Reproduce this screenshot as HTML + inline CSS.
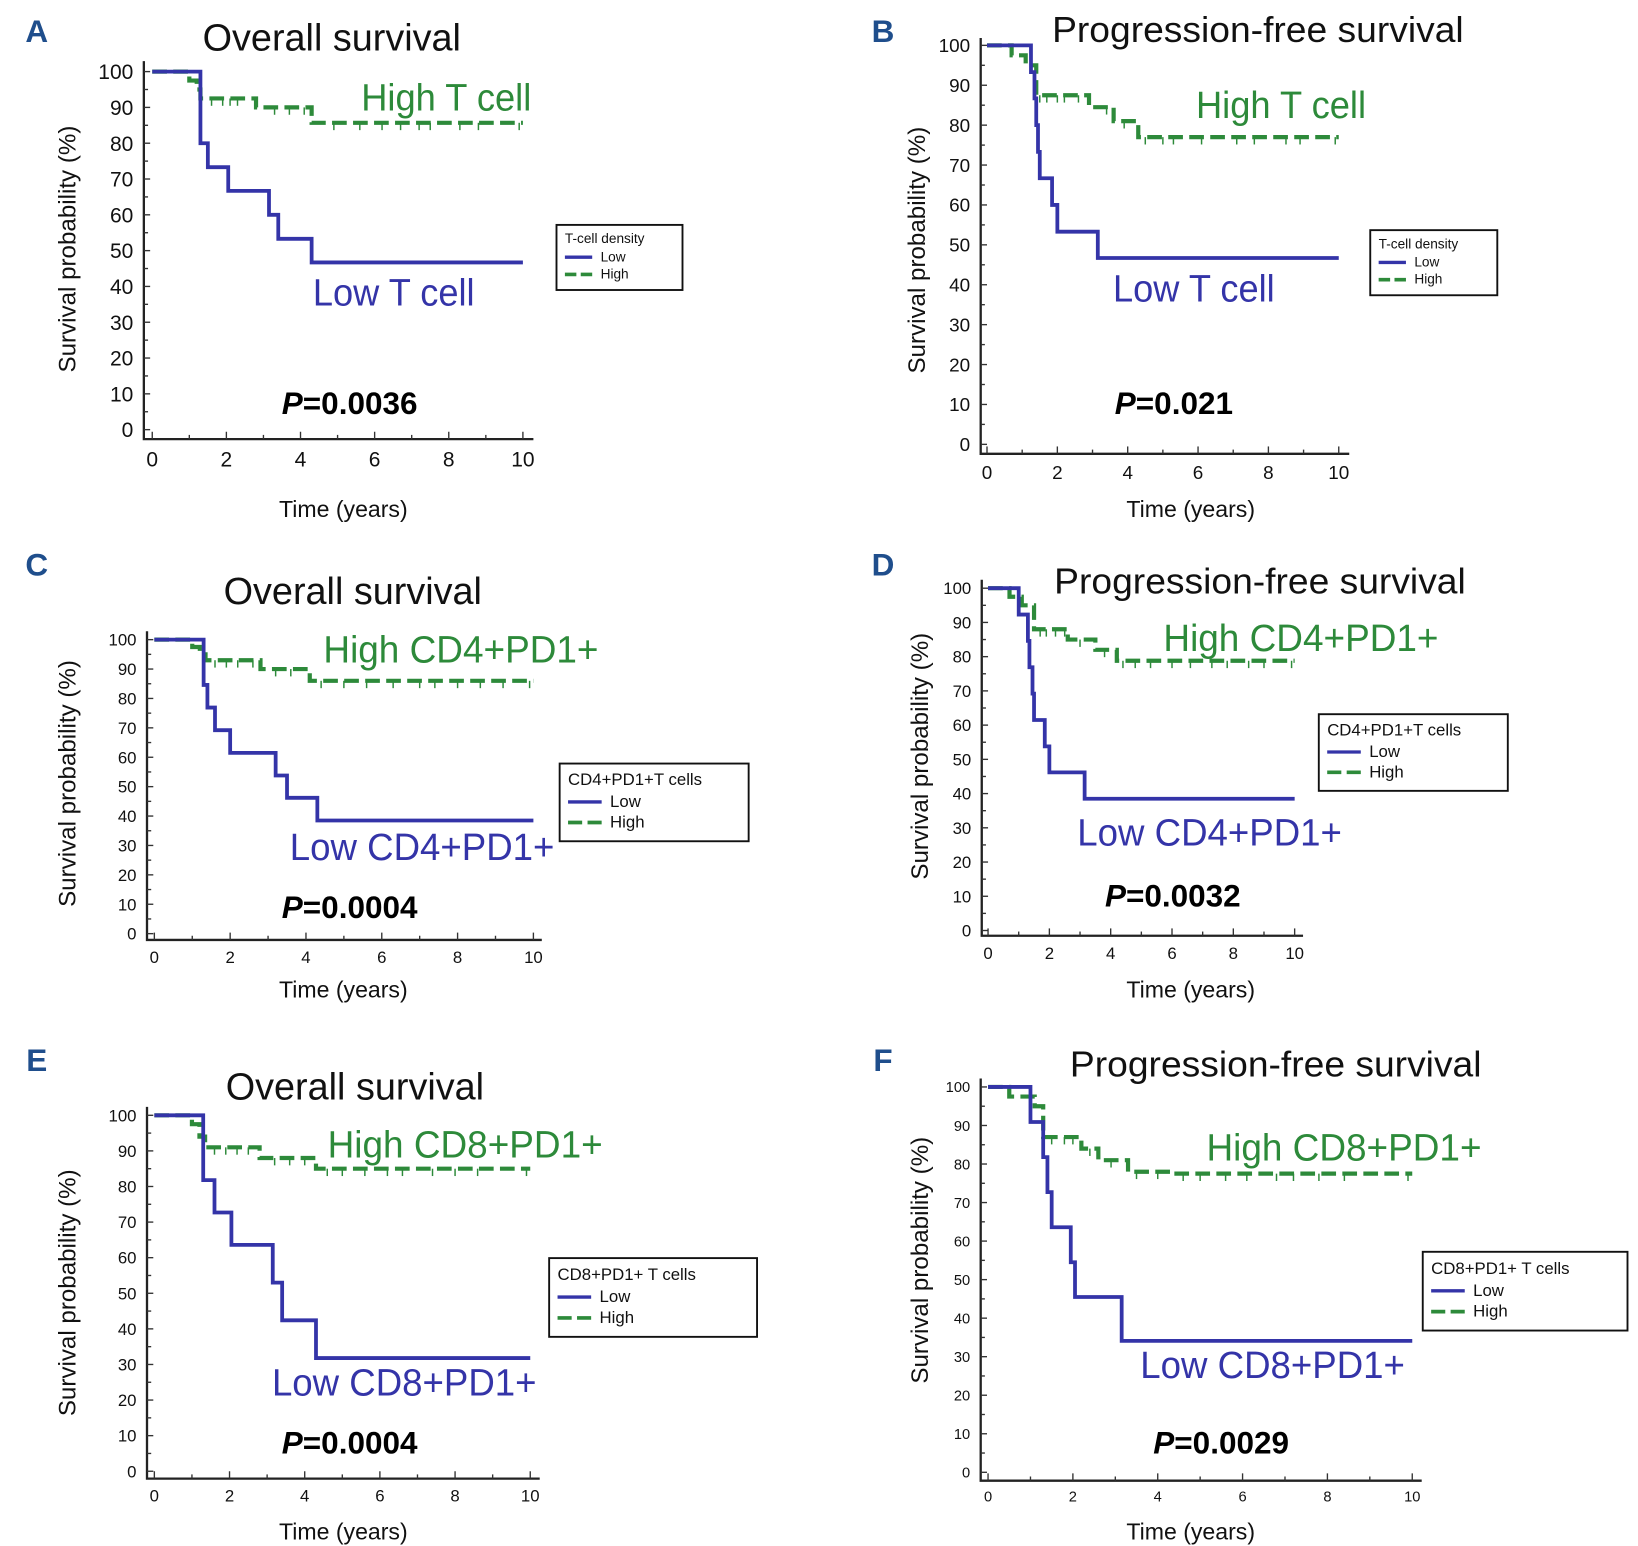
<!DOCTYPE html>
<html><head><meta charset="utf-8"><style>
html,body{margin:0;padding:0;background:#fff;}
svg{display:block;font-family:"Liberation Sans",sans-serif;}
</style></head><body>
<svg id="fig" width="1638" height="1546" viewBox="0 0 1560 1472" xmlns="http://www.w3.org/2000/svg"></svg>
<script>
// ---- data (time in years, survival %) ----
const aLowTimes=[0,1.3,1.5,2.05,3.15,3.4,4.3,10];
const aLowSurv=[100,80,73.3,66.7,60,53.3,46.7,46.7];
const aHighTimes=[0,1.0,1.2,1.3,2.8,4.3,10];
const aHighSurv=[100,97.5,95,92.5,90,85.7,85.7];
const aHighCensor=[1.6,1.9,2.1,2.3,3.3,3.7,4.1,4.9,5.6,6.2,6.7,7.2,7.5,8.3,8.8,9.9];

const bLowTimes=[0,1.25,1.35,1.4,1.45,1.5,1.85,2.0,3.15,10];
const bLowSurv=[100,93.3,86.7,80,73.3,66.7,60,53.3,46.7,46.7];
const bHighTimes=[0,0.7,1.1,1.4,2.9,3.6,4.3,10];
const bHighSurv=[100,97.5,95,87.5,84.5,81,77,77];
const bHighCensor=[1.5,1.7,2.0,2.2,2.6,3.4,3.9,4.5,5.0,5.3,6.1,7.1,7.6,8.5,8.9,9.9];

const cLowTimes=[0,1.3,1.4,1.6,2.0,3.2,3.5,4.3,10];
const cLowSurv=[100,84.6,76.9,69.2,61.5,53.8,46.2,38.5,38.5];
const cHighTimes=[0,1.0,1.2,1.35,2.8,4.1,10];
const cHighSurv=[100,97.5,95,93,90,86,86];
const cHighCensor=[1.6,1.9,2.2,2.6,3.2,3.6,4.4,5.0,5.6,6.3,7.0,7.4,8.0,8.6,9.2,9.9];

const dLowTimes=[0,1.0,1.3,1.35,1.45,1.5,1.85,2.0,3.15,10];
const dLowSurv=[100,92.3,84.6,76.9,69.2,61.5,53.8,46.2,38.5,38.5];
const dHighTimes=[0,0.7,1.1,1.5,2.6,3.5,4.2,10];
const dHighSurv=[100,97.5,95,88,85,82,78.8,78.8];
const dHighCensor=[1.7,1.9,2.2,2.5,3.0,3.8,4.4,4.8,5.3,6.0,6.6,7.3,7.8,8.5,9.0,9.9];

const eLowTimes=[0,1.3,1.6,2.05,3.15,3.4,4.3,10];
const eLowSurv=[100,81.8,72.7,63.6,53,42.4,31.8,31.8];
const eHighTimes=[0,1.0,1.2,1.35,2.8,4.3,10];
const eHighSurv=[100,97.5,94,91,88,85,85];
const eHighCensor=[1.6,1.9,2.2,2.5,3.2,3.6,4.0,4.6,5.0,5.6,6.2,6.6,7.4,8.0,8.6,9.9];

const fLowTimes=[0,1.0,1.3,1.4,1.5,1.95,2.05,3.15,10];
const fLowSurv=[100,90.9,81.8,72.7,63.6,54.5,45.5,34.1,34.1];
const fHighTimes=[0,0.5,1.1,1.3,2.2,2.6,3.3,4.3,10];
const fHighSurv=[100,97.5,95,87,84,81,78,77.5,77.5];
const fHighCensor=[1.5,1.8,2.0,2.4,2.9,3.5,4.0,4.6,5.0,5.6,6.1,6.8,7.2,7.8,8.4,9.9];

const yTicks=[0,10,20,30,40,50,60,70,80,90,100];
const xTicks=[0,2,4,6,8,10];

const panels=[
 {id:'a',letter:'A',lx:35,ly:40,x0:145,x1:498,y100:68,y0:409,axL:137,axB:418,axT:58,axR:508,tick:20,
  title:'Overall survival',tx:316,ty:48,tw:246,tsz:36,
  hi:'High T cell',hx:425,hy:105,hw:162,lo:'Low T cell',lox:375,loy:291,low:154,lsz:36,
  p:'0.0036',px:333,py:394,ytx:72,yty:237,xtx:327,xty:492,xtsz:22,ytsz:23,
  leg:{x:530,y:214,w:120,h:62,title:'T-cell density',sz:13},
  lowT:aLowTimes,lowS:aLowSurv,hiT:aHighTimes,hiS:aHighSurv,cen:aHighCensor},
 {id:'b',letter:'B',lx:841,ly:40,x0:940,x1:1275,y100:43,y0:423,axL:934,axB:432,axT:36,axR:1285,tick:18,
  title:'Progression-free survival',tx:1198,ty:40,tw:392,tsz:34,
  hi:'High T cell',hx:1220,hy:112,hw:162,lo:'Low T cell',lox:1137,loy:287,low:154,lsz:36,
  p:'0.021',px:1118,py:394,ytx:881,yty:238,xtx:1134,xty:492,xtsz:22,ytsz:23,
  leg:{x:1305,y:219,w:121,h:62,title:'T-cell density',sz:13},
  lowT:bLowTimes,lowS:bLowSurv,hiT:bHighTimes,hiS:bHighSurv,cen:bHighCensor},
 {id:'c',letter:'C',lx:35,ly:548,x0:147,x1:508,y100:609,y0:889,axL:140,axB:895,axT:601,axR:516,tick:16,
  title:'Overall survival',tx:336,ty:575,tw:246,tsz:36,
  hi:'High CD4+PD1+',hx:439,hy:631,hw:262,lo:'Low CD4+PD1+',lox:402,loy:819,low:252,lsz:36,
  p:'0.0004',px:333,py:874,ytx:72,yty:746,xtx:327,xty:950,xtsz:22,ytsz:23,
  leg:{x:533,y:727,w:180,h:74,title:'CD4+PD1+T cells',sz:16},
  lowT:cLowTimes,lowS:cLowSurv,hiT:cHighTimes,hiS:cHighSurv,cen:cHighCensor},
 {id:'d',letter:'D',lx:841,ly:548,x0:941,x1:1233,y100:560,y0:886,axL:935,axB:891,axT:552,axR:1241,tick:16,
  title:'Progression-free survival',tx:1200,ty:565,tw:392,tsz:34,
  hi:'High CD4+PD1+',hx:1239,hy:620,hw:262,lo:'Low CD4+PD1+',lox:1152,loy:805,low:252,lsz:36,
  p:'0.0032',px:1117,py:863,ytx:884,yty:720,xtx:1134,xty:950,xtsz:22,ytsz:23,
  leg:{x:1256,y:680,w:180,h:73,title:'CD4+PD1+T cells',sz:16},
  lowT:dLowTimes,lowS:dLowSurv,hiT:dHighTimes,hiS:dHighSurv,cen:dHighCensor},
 {id:'e',letter:'E',lx:35,ly:1020,x0:147,x1:505,y100:1062,y0:1401,axL:140,axB:1408,axT:1054,axR:514,tick:16,
  title:'Overall survival',tx:338,ty:1047,tw:246,tsz:36,
  hi:'High CD8+PD1+',hx:443,hy:1102,hw:262,lo:'Low CD8+PD1+',lox:385,loy:1329,low:252,lsz:36,
  p:'0.0004',px:333,py:1384,ytx:72,yty:1231,xtx:327,xty:1466,xtsz:22,ytsz:23,
  leg:{x:523,y:1198,w:198,h:75,title:'CD8+PD1+ T cells',sz:16},
  lowT:eLowTimes,lowS:eLowSurv,hiT:eHighTimes,hiS:eHighSurv,cen:eHighCensor},
 {id:'f',letter:'F',lx:841,ly:1020,x0:941,x1:1345,y100:1035,y0:1402,axL:934,axB:1410,axT:1027,axR:1354,tick:14,
  title:'Progression-free survival',tx:1215,ty:1025,tw:392,tsz:34,
  hi:'High CD8+PD1+',hx:1280,hy:1105,hw:262,lo:'Low CD8+PD1+',lox:1212,loy:1312,low:252,lsz:36,
  p:'0.0029',px:1163,py:1384,ytx:884,yty:1200,xtx:1134,xty:1466,xtsz:22,ytsz:23,
  leg:{x:1355,y:1192,w:195,h:75,title:'CD8+PD1+ T cells',sz:16},
  lowT:fLowTimes,lowS:fLowSurv,hiT:fHighTimes,hiS:fHighSurv,cen:fHighCensor}
];

const NS='http://www.w3.org/2000/svg';
const svg=document.getElementById('fig');
const BLUE='#3434a8', GREEN='#2d8a3a';
function mk(tag,attrs,parent,text){
  const e=document.createElementNS(NS,tag);
  for(const k in attrs) e.setAttribute(k,attrs[k]);
  if(text!==undefined) e.textContent=text;
  (parent||svg).appendChild(e); return e;
}
function stepPath(ts,ss,sx,sy){
  let d='M'+sx(ts[0])+' '+sy(ss[0]);
  for(let i=1;i<ts.length;i++){
    d+=' H'+sx(ts[i]);
    d+=' V'+sy(ss[i]);
  }
  return d;
}
function survAt(ts,ss,t){let v=ss[0];for(let i=0;i<ts.length;i++){if(ts[i]<=t)v=ss[i];}return v;}

panels.forEach(P=>{
  const g=mk('g',{});
  
  
  const sx=t=>P.x0+(P.x1-P.x0)*t/10;
  const sy=s=>P.y0+(P.y100-P.y0)*s/100;
  const L=mk('text',{x:P.lx,y:P.ly,'font-size':30,'font-weight':'bold',fill:'#1f4e8c','text-anchor':'middle'},g,P.letter);
  
  
  const T=mk('text',{x:P.tx,y:P.ty,'font-size':P.tsz,'text-anchor':'middle',textLength:P.tw,lengthAdjust:'spacingAndGlyphs',fill:'#111'},g,P.title);
  
  
  const ax=mk('path',{d:'M'+P.axL+' '+P.axT+' V'+P.axB+' H'+P.axR,stroke:'#222','stroke-width':2.2,fill:'none'},g);
  
  
  for(let v=0;v<=100;v+=5){
    const tk=mk('line',{x1:P.axL,x2:P.axL+(v%10===0?6:4),y1:sy(v),y2:sy(v),stroke:'#333','stroke-width':1.3},g);
    
    
  }
  yTicks.forEach(v=>{
    const t=mk('text',{x:P.axL-10,y:sy(v)+P.tick*0.36,'font-size':P.tick,'text-anchor':'end',fill:'#111'},g,String(v));
    
    
  });
  for(let v=0;v<=10;v++){
    const tk=mk('line',{x1:sx(v),x2:sx(v),y1:P.axB,y2:P.axB-(v%2===0?7:4),stroke:'#333','stroke-width':1.3},g);
    
    
  }
  xTicks.forEach(v=>{
    const t=mk('text',{x:sx(v),y:P.axB+P.tick+6,'font-size':P.tick,'text-anchor':'middle',fill:'#111'},g,String(v));
    
    
  });
  const yt=mk('text',{x:P.ytx,y:P.yty,'font-size':P.ytsz,'text-anchor':'middle',transform:'rotate(-90 '+P.ytx+' '+P.yty+')',fill:'#111'},g,'Survival probability (%)');
  
  
  const xt=mk('text',{x:P.xtx,y:P.xty,'font-size':P.xtsz,'text-anchor':'middle',fill:'#111'},g,'Time (years)');
  
  
  const hp=mk('path',{d:stepPath(P.hiT,P.hiS,sx,sy),stroke:GREEN,'stroke-width':4,fill:'none','stroke-dasharray':'14 6'},g);
  
  
  P.cen.forEach(c=>{
    const yv=sy(survAt(P.hiT,P.hiS,c));
    const m=mk('line',{x1:sx(c),x2:sx(c),y1:yv,y2:yv+7,stroke:GREEN,'stroke-width':1.4},g);
    
    
  });
  const lp=mk('path',{d:stepPath(P.lowT,P.lowS,sx,sy),stroke:BLUE,'stroke-width':3.6,fill:'none'},g);
  
  
  const ht=mk('text',{x:P.hx,y:P.hy,'font-size':P.lsz,fill:GREEN,'text-anchor':'middle',textLength:P.hw,lengthAdjust:'spacingAndGlyphs'},g,P.hi);
  
  
  const lt=mk('text',{x:P.lox,y:P.loy,'font-size':P.lsz,fill:BLUE,'text-anchor':'middle',textLength:P.low,lengthAdjust:'spacingAndGlyphs'},g,P.lo);
  
  
  const pt=mk('text',{x:P.px,y:P.py,'font-size':30,'font-weight':'bold','text-anchor':'middle',fill:'#000'},g);
  
  
  mk('tspan',{'font-style':'italic'},pt,'P');
  mk('tspan',{},pt,'='+P.p);
  const Lg=P.leg;
  const lg=mk('g',{},g);
  
  
  mk('rect',{x:Lg.x,y:Lg.y,width:Lg.w,height:Lg.h,fill:'#fff',stroke:'#111','stroke-width':1.8},lg);
  const rh=Lg.h/3.4;
  mk('text',{x:Lg.x+8,y:Lg.y+rh*0.95,'font-size':Lg.sz,fill:'#111'},lg,Lg.title);
  const ly1=Lg.y+rh*1.9, ly2=Lg.y+rh*2.8, lw=Lg.sz*2;
  mk('line',{x1:Lg.x+8,x2:Lg.x+8+lw,y1:ly1-Lg.sz*0.3,y2:ly1-Lg.sz*0.3,stroke:BLUE,'stroke-width':3.2},lg);
  mk('line',{x1:Lg.x+8,x2:Lg.x+8+lw,y1:ly2-Lg.sz*0.3,y2:ly2-Lg.sz*0.3,stroke:GREEN,'stroke-width':3.5,'stroke-dasharray':(lw*0.42)+' '+(lw*0.16)},lg);
  const e1=mk('text',{x:Lg.x+16+lw,y:ly1,'font-size':Lg.sz,fill:'#111'},lg,'Low');
  
  
  const e2=mk('text',{x:Lg.x+16+lw,y:ly2,'font-size':Lg.sz,fill:'#111'},lg,'High');
  
  
});
</script>
</body></html>
